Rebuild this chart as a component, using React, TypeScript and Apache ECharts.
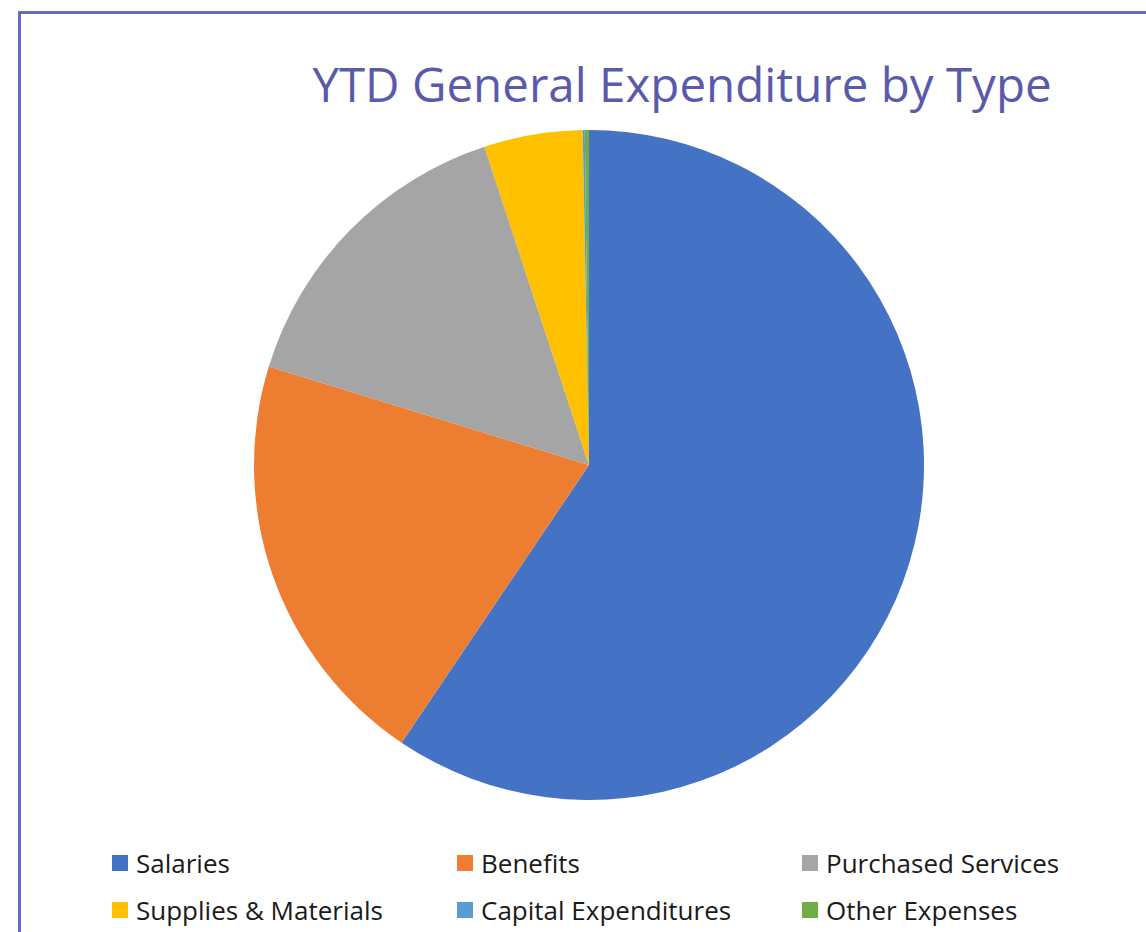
import React, { useEffect, useRef } from "react";
import * as echarts from "echarts";

const categories = [
  "Salaries",
  "Benefits",
  "Purchased Services",
  "Supplies & Materials",
  "Capital Expenditures",
  "Other Expenses",
];
// share of YTD general expenditure (percent)
const values = [59.45, 20.3, 15.2, 4.75, 0.1, 0.2];
const colors = ["#4472C4", "#ED7D31", "#A5A5A5", "#FFC000", "#5B9BD5", "#70AD47"];
const titleText = "YTD General Expenditure by Type";
// legend columns (legend entries laid out as in the reference: 3 columns x 2 rows)
const legendColumns = [
  ["Salaries", "Supplies & Materials"],
  ["Benefits", "Capital Expenditures"],
  ["Purchased Services", "Other Expenses"],
];
const legendLefts = [112, 457, 802];

export default function App() {
  const ref = useRef<HTMLDivElement>(null);
  useEffect(() => {
    if (!ref.current) return;
    const chart = echarts.init(ref.current, undefined, { renderer: "svg" });
    chart.setOption({
      animation: false,
      backgroundColor: "#ffffff",
      title: {
        text: titleText,
        left: 677,
        top: 54,
        textAlign: "center",
        textStyle: {
          fontFamily: "Open Sans",
          fontSize: 47.5,
          fontWeight: "normal",
          color: "#5A5AAB",
        },
      },
      graphic: [
        {
          type: "rect",
          shape: { x: 19.5, y: 12.5, width: 1300, height: 1100 },
          style: { fill: "none", stroke: "#6A6ABF", lineWidth: 3 },
          silent: true,
        },
      ],
      legend: legendColumns.map((col, i) => ({
        left: legendLefts[i],
        top: 850,
        padding: 0,
        orient: "vertical",
        itemWidth: 16,
        itemHeight: 16,
        itemGap: 21,
        icon: "rect",
        textStyle: {
          fontFamily: "Open Sans",
          fontSize: 26,
          color: "#1a1a1a",
          lineHeight: 26,
          padding: [0, 0, 0, 3],
        },
        data: col,
      })),
      series: [
        {
          type: "pie",
          center: [589, 465],
          radius: 335,
          startAngle: 90,
          clockwise: true,
          label: { show: false },
          labelLine: { show: false },
          emphasis: { disabled: true },
          data: categories.map((name, i) => ({
            name,
            value: values[i],
            itemStyle: { color: colors[i] },
          })),
        },
      ],
    });
    return () => chart.dispose();
  }, []);
  return (
    <div
      ref={ref}
      style={{ position: "fixed", left: 0, top: 0, width: 1146, height: 932 }}
    />
  );
}
